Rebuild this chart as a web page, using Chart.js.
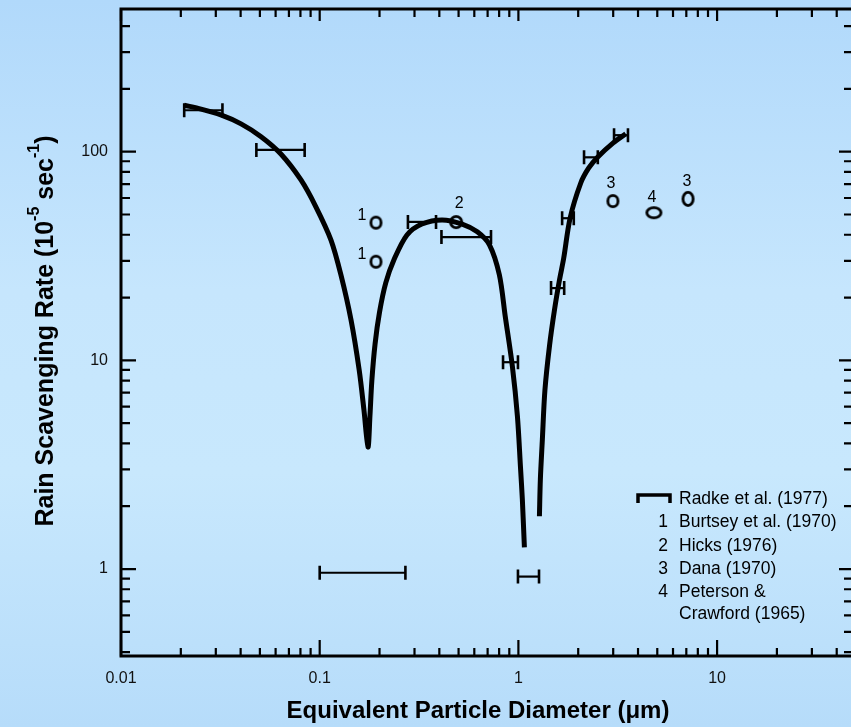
<!DOCTYPE html>
<html>
<head>
<meta charset="utf-8">
<script src="https://cdn.jsdelivr.net/npm/chart.js@4.4.0/dist/chart.umd.min.js"></script>
<style>
  html, body { margin: 0; padding: 0; }
  body {
    width: 851px; height: 727px; overflow: hidden;
    background: linear-gradient(to bottom, #b1d9fb 0%, #c6e6fd 40%, #c8e8fd 65%, #b6dcfa 100%);
  }
  canvas { display: block; }
</style>
</head>
<body>
<canvas id="myChart" width="851" height="727"></canvas>
<script>
// Radke et al. (1977) curve - null splits the two branches near 1.2 um
var radkeX = [0.0208, 0.0253, 0.0318, 0.0402, 0.0507, 0.0638, 0.0805, 0.0958, 0.114, 0.128, 0.1438, 0.158, 0.167, 0.175,
              0.179, 0.183, 0.190, 0.200, 0.215, 0.237, 0.275, 0.327, 0.413, 0.521, 0.621, 0.715, 0.802, 0.859,
              0.933, 0.989, 1.024, 1.047, 1.072, 1.17,
              1.276, 1.29, 1.32, 1.36, 1.435, 1.52, 1.61, 1.69, 1.82, 2.06, 2.26, 2.51, 2.99, 3.47];
var radkeY = [167, 160, 150, 136, 118, 97.5, 73.2, 54.3, 37.7, 25.6, 15.6, 9.0, 5.78, 3.84,
              5.4, 8.0, 12.0, 17.0, 23.5, 30.5, 39.9, 45, 47.1, 45, 41.3, 35.8, 25.7, 16.2,
              9.33, 5.38, 3.1, 2.15, 1.27, null,
              1.79, 2.69, 4.17, 7.2, 11.8, 17.5, 24.3, 30.8, 48, 70.8, 83.6, 94.4, 110, 122];

// horizontal size-range bars
var barLo = [0.0208, 0.048, 0.10, 0.278, 0.41, 0.837, 0.995, 1.46, 1.66, 2.14, 3.03];
var barHi = [0.0324, 0.084, 0.27, 0.385, 0.728, 0.995, 1.27, 1.70, 1.90, 2.51, 3.56];
var barY  = [158, 102, 0.96, 46.1, 39, 9.8, 0.92, 22.2, 48, 94, 120];

// other studies (open circles), with their reference number
var ptX = [0.192, 0.192, 0.486, 2.99, 4.81, 7.14];
var ptY = [45.7, 29.7, 46, 58, 51, 59.4];
var ptLabel = ['1', '1', '2', '3', '4', '3'];

var xTickLabels = ['0.01', '0.1', '1', '10'];
var yTickLabels = ['1', '10', '100'];

var legendNums = ['', '1', '2', '3', '4', ''];
var legendText = ['Radke et al. (1977)', 'Burtsey et al. (1970)', 'Hicks (1976)', 'Dana (1970)', 'Peterson &', 'Crawford (1965)'];

var xTitle = 'Equivalent Particle Diameter (\u03bcm)';
var yTitleParts = [['Rain Scavenging Rate (10', false], ['-5', true], [' sec', false], ['-1', true], [')', false]];

var FONT = '"Liberation Sans", Arial, Helvetica, sans-serif';

function logTicks(min, max) {
  var out = [];
  for (var e = -3; e <= 3; e++) {
    for (var m = 1; m <= 9; m++) {
      var v = +(m * Math.pow(10, e)).toPrecision(6);
      if (v >= min * 0.999 && v <= max * 1.001) out.push(v);
    }
  }
  return out;
}
function isDecade(v) {
  var l = Math.log10(v);
  return Math.abs(l - Math.round(l)) < 1e-6;
}
function labelFor(v, list) {
  for (var i = 0; i < list.length; i++) {
    if (Math.abs(parseFloat(list[i]) - v) < 1e-9) return list[i];
  }
  return '';
}

function ring(w, h) {
  var c = document.createElement('canvas');
  c.width = w + 4; c.height = h + 4;
  var g = c.getContext('2d');
  g.lineWidth = 2.8; g.strokeStyle = '#000';
  g.beginPath();
  g.ellipse(c.width / 2, c.height / 2, w / 2 - 1.4, h / 2 - 1.4, 0, 0, Math.PI * 2);
  g.stroke();
  return c;
}
var ringSizes = [[13, 14], [13, 14], [14, 14], [13, 14], [17, 13], [13, 16]];
var ptStyles = ringSizes.map(function (s) { return ring(s[0], s[1]); });

var radkeData = radkeX.map(function (x, i) { return { x: x, y: radkeY[i] }; });
var ptData = ptX.map(function (x, i) { return { x: x, y: ptY[i] }; });

var extras = {
  id: 'extras',
  afterDatasetsDraw: function (chart) {
    var c = chart.ctx, a = chart.chartArea;
    var xs = chart.scales.x, ys = chart.scales.y;
    c.save();
    c.strokeStyle = '#000';
    c.fillStyle = '#000';

    // range bars
    for (var i = 0; i < barY.length; i++) {
      var x1 = xs.getPixelForValue(barLo[i]), x2 = xs.getPixelForValue(barHi[i]);
      var y = ys.getPixelForValue(barY[i]);
      c.lineWidth = 2.2;
      c.beginPath(); c.moveTo(x1, y); c.lineTo(x2, y); c.stroke();
      c.lineWidth = 2.6;
      c.beginPath();
      c.moveTo(x1, y - 7); c.lineTo(x1, y + 7);
      c.moveTo(x2, y - 7); c.lineTo(x2, y + 7);
      c.stroke();
    }

    // study numbers beside the circles
    var offs = [[-14, -7], [-14, -7], [3, -18], [-2, -17], [-2, -15], [-1, -17]];
    c.font = '16px ' + FONT;
    c.textAlign = 'center'; c.textBaseline = 'middle';
    for (var k = 0; k < ptX.length; k++) {
      var px = xs.getPixelForValue(ptX[k]), py = ys.getPixelForValue(ptY[k]);
      c.fillText(ptLabel[k], px + offs[k][0], py + offs[k][1]);
    }

    // frame: left, top, bottom (right side is cut off in the scan)
    c.lineWidth = 3;
    c.beginPath();
    c.moveTo(a.right, a.top); c.lineTo(a.left, a.top); c.lineTo(a.left, a.bottom); c.lineTo(a.right, a.bottom);
    c.stroke();

    // inward tick marks on all four sides
    c.lineWidth = 2.2;
    c.beginPath();
    xs.ticks.forEach(function (t) {
      var p = xs.getPixelForValue(t.value);
      if (p < a.left - 1 || p > a.right + 1) return;
      var big = isDecade(t.value);
      c.moveTo(p, a.bottom); c.lineTo(p, a.bottom - (big ? 16 : 8));
      c.moveTo(p, a.top); c.lineTo(p, a.top + (big ? 12 : 8));
    });
    ys.ticks.forEach(function (t) {
      var p = ys.getPixelForValue(t.value);
      if (p < a.top - 1 || p > a.bottom + 1) return;
      var big = isDecade(t.value);
      c.moveTo(a.left, p); c.lineTo(a.left + (big ? 15 : 9), p);
      c.moveTo(a.right, p); c.lineTo(a.right - (big ? 12 : 7), p);
    });
    c.stroke();

    // legend
    var lx = 679, ly = [499, 522, 546, 569, 592, 614];
    c.lineWidth = 3.5;
    c.beginPath();
    c.moveTo(638, 503); c.lineTo(638, 495); c.lineTo(670, 495); c.lineTo(670, 503);
    c.stroke();
    c.font = '17.5px ' + FONT;
    c.textBaseline = 'middle';
    for (var j = 0; j < legendText.length; j++) {
      c.textAlign = 'center';
      if (legendNums[j]) c.fillText(legendNums[j], 663, ly[j]);
      c.textAlign = 'left';
      c.fillText(legendText[j], lx, ly[j]);
    }

    // x axis title
    c.font = 'bold 24px ' + FONT;
    c.textAlign = 'center';
    c.fillText(xTitle, 478, 711);

    // y axis title with superscripts
    var big = 'bold 25px ' + FONT, small = 'bold 16px ' + FONT;
    var total = 0;
    yTitleParts.forEach(function (p) { c.font = p[1] ? small : big; total += c.measureText(p[0]).width; });
    c.translate(46, 331);
    c.rotate(-Math.PI / 2);
    c.textAlign = 'left'; c.textBaseline = 'middle';
    var cx = -total / 2;
    yTitleParts.forEach(function (p) {
      c.font = p[1] ? small : big;
      c.fillText(p[0], cx, p[1] ? -11 : 0);
      cx += c.measureText(p[0]).width;
    });
    c.restore();
  }
};

var ctx = document.getElementById('myChart').getContext('2d');

var myChart = new Chart(ctx, {
  type: 'line',
  data: {
    datasets: [{
      label: 'Radke et al. (1977)',
      data: radkeData,
      borderColor: '#000',
      borderWidth: 5,
      pointRadius: 0,
      tension: 0.3,
      spanGaps: false,
      fill: false
    }, {
      type: 'scatter',
      label: 'Other studies',
      data: ptData,
      pointStyle: ptStyles,
      pointRadius: 7,
      showLine: false
    }]
  },
  options: {
    responsive: false,
    animation: false,
    devicePixelRatio: 1,
    layout: { autoPadding: false, padding: { top: 9, right: 0, bottom: 0, left: 0 } },
    plugins: { legend: { display: false }, tooltip: { enabled: false } },
    scales: {
      x: {
        type: 'logarithmic',
        min: 0.01, max: 47.2,
        grid: { display: false, drawTicks: false },
        border: { display: false },
        afterBuildTicks: function (s) { s.ticks = logTicks(0.01, 47.2).map(function (v) { return { value: v }; }); },
        afterFit: function (s) { s.height = 71; s.paddingLeft = 0; s.paddingRight = 0; },
        ticks: {
          autoSkip: false, maxRotation: 0, padding: 13, color: '#111',
          font: { family: FONT, size: 16 },
          callback: function (v) { return labelFor(v, xTickLabels); }
        }
      },
      y: {
        type: 'logarithmic',
        min: 0.383, max: 483,
        grid: { display: false, drawTicks: false },
        border: { display: false },
        afterBuildTicks: function (s) { s.ticks = logTicks(0.383, 483).map(function (v) { return { value: v }; }); },
        afterFit: function (s) { s.width = 121; s.paddingTop = 0; s.paddingBottom = 0; },
        ticks: {
          autoSkip: false, padding: 13, color: '#111',
          font: { family: FONT, size: 16 },
          callback: function (v) { return labelFor(v, yTickLabels); }
        }
      }
    }
  },
  plugins: [extras]
});
</script>
</body>
</html>
